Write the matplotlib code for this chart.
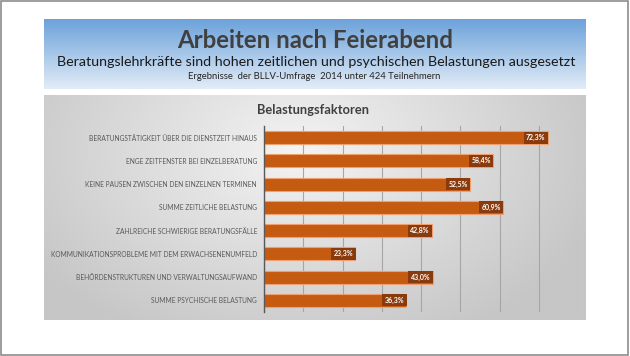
import numpy as np
import matplotlib
matplotlib.use("Agg")
import matplotlib.pyplot as plt
from matplotlib.patches import Rectangle

categories = [
    "BERATUNGSTÄTIGKEIT ÜBER DIE DIENSTZEIT HINAUS",
    "ENGE ZEITFENSTER BEI EINZELBERATUNG",
    "KEINE PAUSEN ZWISCHEN DEN EINZELNEN TERMINEN",
    "SUMME ZEITLICHE BELASTUNG",
    "ZAHLREICHE SCHWIERIGE BERATUNGSFÄLLE",
    "KOMMUNIKATIONSPROBLEME MIT DEM ERWACHSENENUMFELD",
    "BEHÖRDENSTRUKTUREN UND VERWALTUNGSAUFWAND",
    "SUMME PSYCHISCHE BELASTUNG",
]
values = [72.3, 58.4, 52.5, 60.9, 42.8, 23.3, 43.0, 36.3]
value_labels = ["72,3%", "58,4%", "52,5%", "60,9%", "42,8%", "23,3%", "43,0%", "36,3%"]

title = "Arbeiten nach Feierabend"
subtitle = "Beratungslehrkräfte sind hohen zeitlichen und psychischen Belastungen ausgesetzt"
subsub = "Ergebnisse  der BLLV-Umfrage  2014 unter 424 Teilnehmern"
panel_title = "Belastungsfaktoren"

FONT = ["Lato", "DejaVu Sans"]
plt.rcParams["font.family"] = FONT

W, H = 630, 356
fig = plt.figure(figsize=(W / 100, H / 100), dpi=100)
fig.patch.set_facecolor("white")


def px_axes(x0, y0, x1, y1):
    return fig.add_axes([x0 / W, 1 - y1 / H, (x1 - x0) / W, (y1 - y0) / H])


# outer frame
fig.patches.append(Rectangle((0.8 / W, 1 - 354.5 / H), 627.5 / W, 354 / H,
                             transform=fig.transFigure, fill=False,
                             ec="#8c8c8c", lw=1.2))

# header band with vertical gradient
hax = px_axes(44, 19, 586, 89)
top = np.array([0x6c, 0xa2, 0xda]) / 255
bot = np.array([0xe2, 0xec, 0xf7]) / 255
t = np.linspace(0, 1, 100)[:, None, None]
grad = top * (1 - t) + bot * t
grad = np.repeat(grad, 2, axis=1)
hax.imshow(grad, aspect="auto", extent=[0, 1, 0, 1], interpolation="bilinear")
hax.set_xlim(0, 1); hax.set_ylim(0, 1); hax.axis("off")

# panel with radial-ish gray gradient
pax = px_axes(44, 95, 586, 320)
yy, xx = np.mgrid[0:1:120j, 0:1:300j]
d = np.sqrt(((xx - 0.47) / 0.62) ** 2 + ((yy - 0.25) / 1.0) ** 2)
g = np.clip(0.955 - 0.19 * d, 0.78, 0.96)
pax.imshow(np.dstack([g, g, g]), aspect="auto", extent=[0, 1, 0, 1],
           interpolation="bilinear")
pax.set_xlim(0, 1); pax.set_ylim(0, 1); pax.axis("off")

renderer = fig.canvas.get_renderer()


def fit(txt, target):
    for _ in range(3):
        w = txt.get_window_extent(renderer).width
        txt.set_fontsize(txt.get_fontsize() * target / w)


t1 = fig.text(315 / W, 1 - 40 / H, title, ha="center", va="center",
              fontsize=16, fontweight="bold", color="#404040")
fit(t1, 276)
t2 = fig.text(316 / W, 1 - 62 / H, subtitle, ha="center", va="center",
              fontsize=11, color="#1a1a1a")
fit(t2, 519)
t3 = fig.text(314 / W, 1 - 76.5 / H, subsub, ha="center", va="center",
              fontsize=6, color="#262626")
fit(t3, 250)
t4 = fig.text(313 / W, 1 - 110 / H, panel_title, ha="center", va="center",
              fontsize=10, fontweight="bold", color="#404040")
fit(t4, 112)

# main bar chart
ax = px_axes(264, 126, 578, 312)
ax.patch.set_alpha(0)
y = np.arange(len(categories))
ax.barh(y, values, height=0.56, color="#c55a11", edgecolor="#f0a070",
        linewidth=0.8, zorder=3)
ax.set_xlim(0, 80)
ax.set_ylim(len(categories) - 0.5, -0.5)
ax.set_xticks(np.arange(0, 81, 10))
ax.grid(axis="x", color="#a6a6a6", lw=0.8, zorder=0)
ax.tick_params(axis="x", length=0, labelbottom=False)
ax.tick_params(axis="y", length=0, pad=5)
ax.set_yticks(y)
ax.set_yticklabels(categories, fontsize=4.8, color="#595959")
for s in ["top", "right", "bottom"]:
    ax.spines[s].set_visible(False)
ax.spines["left"].set_color("#595959")
ax.spines["left"].set_linewidth(1.0)
ax.spines["left"].set_zorder(4)

for yi, v, lab in zip(y, values, value_labels):
    ax.annotate(lab, xy=(v, yi), xytext=(-1.6, 0), textcoords="offset points",
                ha="right", va="center", fontsize=5.0, fontweight="bold",
                color="white", zorder=5,
                bbox=dict(boxstyle="square,pad=0.35", fc="#8a3b0d", ec="none"))

fig.savefig("out.png", dpi=100)
